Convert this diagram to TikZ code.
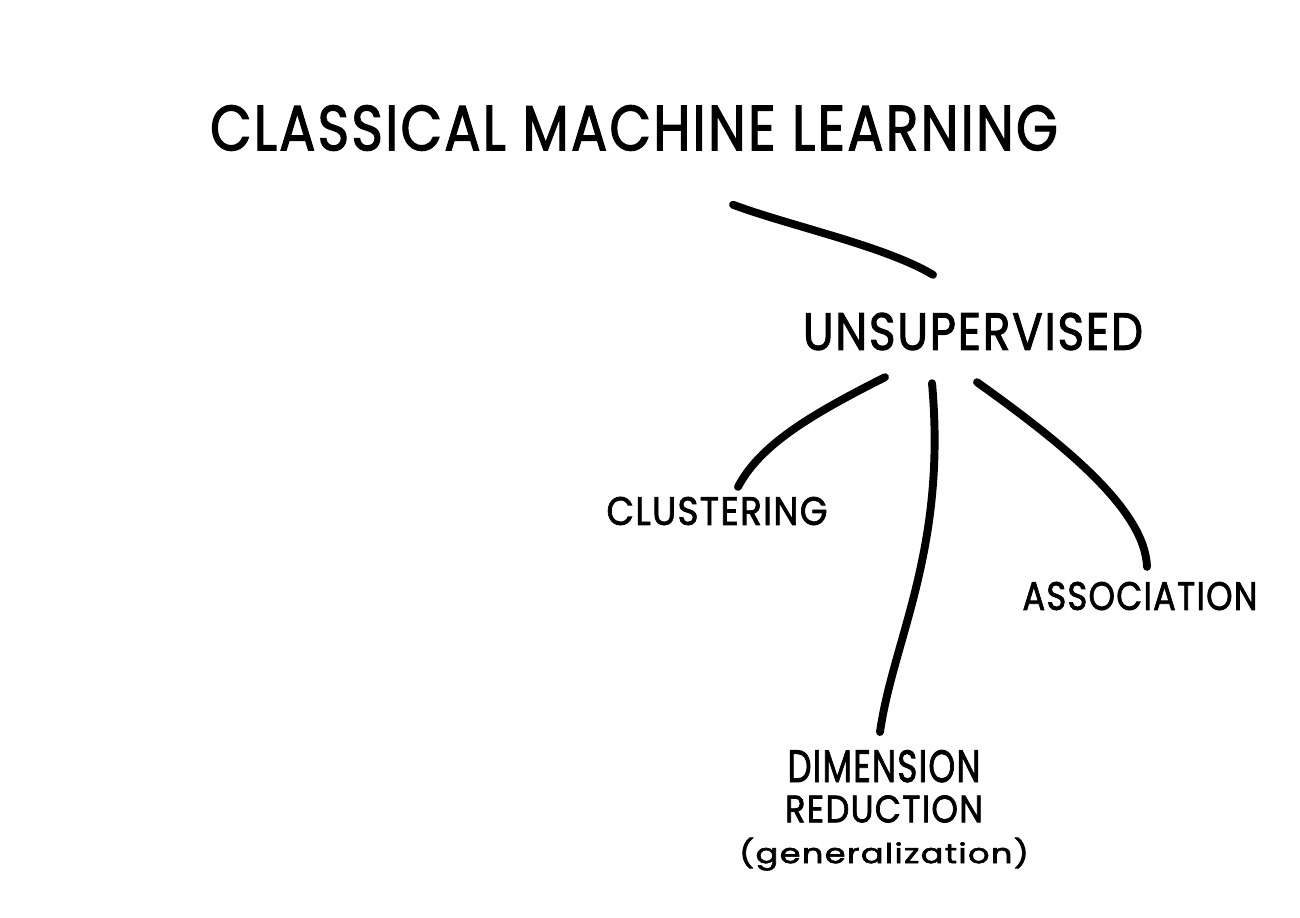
\documentclass[tikz,border=0pt]{standalone}
\usepackage{fontspec}
\setmainfont{Poppins}
\newfontfamily\handfont{Poppins}[FakeBold=2,LetterSpace=4]
\usetikzlibrary{calc}

\begin{document}
\begin{tikzpicture}[x=0.02cm,y=-0.02cm]
        \tikzstyle{lbl}=[inner sep=0pt,outer sep=0pt,align=center,black,font=\handfont]
        \tikzstyle{branch}=[line width=4.5pt,line cap=round,black]
        \useasboundingbox[fill=white] (0,0) rectangle (1300,917);
        \node[lbl] (cml) at (634,128) {\resizebox{16.96cm}{0.9cm}{CLASSICAL MACHINE LEARNING}};
        \node[lbl] (unsup) at (973,331.5) {\resizebox{6.8cm}{0.74cm}{UNSUPERVISED}};
        \node[lbl] (clust) at (717,511) {\resizebox{4.42cm}{0.56cm}{CLUSTERING}};
        \node[lbl] (assoc) at (1140,596) {\resizebox{4.7cm}{0.56cm}{ASSOCIATION}};
        \node[lbl,anchor=north] (dimred) at (884,750) {\resizebox{3.86cm}{0.64cm}{DIMENSION}\\[6.4pt]\resizebox{3.96cm}{0.54cm}{REDUCTION}\\[7.5pt]\resizebox*{5.8cm}{0.66cm}{(generalization)}};
        \draw[branch] ($(cml.south)+(99,54)$) .. controls (790,226) and (885,246) .. ($(unsup.north)+(-40,-38)$);
        \draw[branch] ($(unsup.south)+(-88,27)$) .. controls (810,415) and (760,445) .. ($(clust.north)+(21,-10)$);
        \draw[branch] ($(unsup.south)+(-41,33)$) .. controls (947,550) and (893,640) .. ($(dimred.north)+(-4,-18)$);
        \draw[branch] ($(unsup.south)+(4,32)$) .. controls (1065,445) and (1145,510) .. ($(assoc.north)+(7,-15)$);
    \end{tikzpicture}
\end{document}
